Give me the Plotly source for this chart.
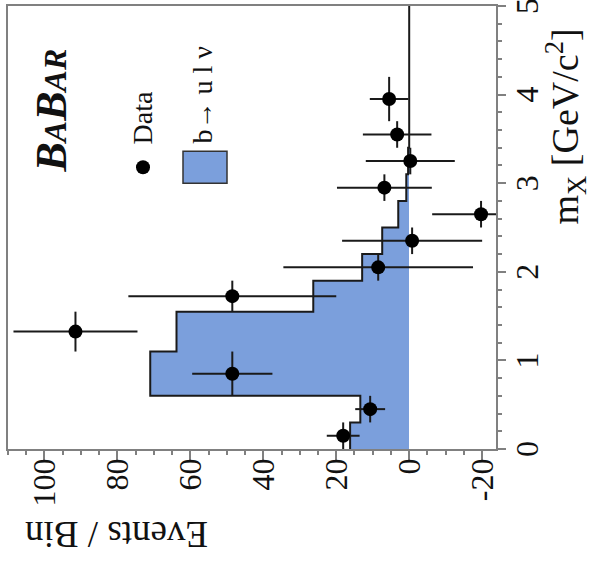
import plotly.graph_objects as go

# ---- data ----
bin_edges = [0.0, 0.3, 0.6, 1.1, 1.55, 1.9, 2.2, 2.5, 2.8, 3.1, 3.4, 3.7, 4.2, 5.0]
data_events = [18.1, 10.7, 48.5, 91.5, 48.5, 8.5, -0.8, -19.7, 6.8, -0.3, 3.3, 5.5]
data_errors = [4.5, 4.1, 11.0, 17.0, 28.5, 26.0, 19.2, 13.4, 13.0, 12.2, 9.4, 5.3]
mc_events = [16.2, 13.4, 71.0, 63.8, 26.3, 12.9, 7.4, 3.0, 0.8, 0.3, 0.0, 0.0, 0.0]
x_ticks = [-20, 0, 20, 40, 60, 80, 100]
y_ticks = [0, 1, 2, 3, 4, 5]

FILL = "#7b9fdc"
DARK = "#1a1a1a"
AXC = "#808080"
FONT = "Liberation Serif"

centers = [(bin_edges[i] + bin_edges[i + 1]) / 2 for i in range(len(bin_edges) - 1)]
widths = [bin_edges[i + 1] - bin_edges[i] for i in range(len(bin_edges) - 1)]
n_data = len(data_events)

fig = go.Figure()

# histogram fill
fig.add_trace(go.Bar(
    x=mc_events, y=centers, width=widths, orientation="h",
    marker=dict(color=FILL, line=dict(width=0)), showlegend=False,
))

# histogram step outline
sx, sy = [], []
for i, v in enumerate(mc_events):
    sx += [v, v]
    sy += [bin_edges[i], bin_edges[i + 1]]
fig.add_trace(go.Scatter(x=sx, y=sy, mode="lines",
                         line=dict(color=DARK, width=2), showlegend=False))

# data points
fig.add_trace(go.Scatter(
    x=data_events, y=centers[:n_data], mode="markers",
    marker=dict(color="black", size=14),
    error_x=dict(type="data", array=data_errors, color=DARK, thickness=2, width=0),
    error_y=dict(type="data", array=[w / 2 for w in widths[:n_data]], color=DARK, thickness=2, width=0),
    showlegend=False,
))

# plot area in pixels
L, R, T, B = 8, 496, 4, 449
W, H = 593, 568


def px(xp):
    return (xp - L) / (R - L)


def py(yp):
    return (B - yp) / (B - T)


fig.update_layout(
    width=W, height=H,
    margin=dict(l=L, r=W - R, t=T, b=H - B),
    paper_bgcolor="white", plot_bgcolor="white",
    bargap=0,
    xaxis=dict(
        range=[110, -23.8], tickvals=x_ticks, ticktext=[str(v) for v in x_ticks],
        tickangle=-90, ticks="outside", ticklen=9, tickwidth=1.5, tickcolor=AXC,
        minor=dict(dtick=5, tick0=0, ticks="outside", ticklen=4, tickwidth=1.5, tickcolor=AXC),
        showline=True, linecolor=AXC, linewidth=1.5, mirror=True,
        showgrid=False, zeroline=False, ticklabelstandoff=-14,
        tickfont=dict(family=FONT, size=32, color="#111"),
    ),
    yaxis=dict(
        range=[0, 5], side="right", tickvals=y_ticks, showticklabels=False,
        ticks="outside", ticklen=8, tickwidth=1.5, tickcolor=AXC,
        minor=dict(dtick=0.2, tick0=0, ticks="outside", ticklen=4, tickwidth=1.5, tickcolor=AXC),
        showline=True, linecolor=AXC, linewidth=1.5, mirror=True,
        showgrid=False, zeroline=False,
    ),
    font=dict(family=FONT, color="#111"),
)

# y tick labels (rotated)
for v in y_ticks:
    fig.add_annotation(text=str(v), xref="paper", yref="y", x=px(527), y=v,
                       xanchor="center", yanchor="middle", showarrow=False, textangle=-90,
                       font=dict(family=FONT, size=32, color="#111"))

# axis titles
fig.add_annotation(text="Events / Bin", xref="paper", yref="paper",
                   x=px(117), y=py(535), xanchor="center", yanchor="middle",
                   showarrow=False, textangle=180,
                   font=dict(family=FONT, size=37, color="#111"))
fig.add_annotation(text="m<sub>X</sub> [GeV/c<sup>2</sup>]", xref="paper", yref="paper",
                   x=px(566), y=py(125), xanchor="center", yanchor="middle",
                   showarrow=False, textangle=-90,
                   font=dict(family=FONT, size=38, color="#111"))

# BaBar logo
fig.add_annotation(
    text="<b><i>B<span style='font-size:32px'>A</span>B<span style='font-size:32px'>AR</span></i></b>",
    xref="paper", yref="paper", x=px(52), y=py(109), xanchor="center", yanchor="middle",
    showarrow=False, textangle=-90,
    font=dict(family=FONT, size=44, color="#111"))

# legend
fig.add_shape(type="circle", xref="paper", yref="paper",
              x0=px(136), x1=px(150), y0=py(173), y1=py(159),
              fillcolor="black", line=dict(width=0))
fig.add_annotation(text="Data", xref="paper", yref="paper", x=px(142), y=py(117),
                   xanchor="center", yanchor="middle",
                   showarrow=False, textangle=-90, font=dict(family=FONT, size=28, color="#111"))
fig.add_shape(type="rect", xref="paper", yref="paper",
              x0=px(183), x1=px(227), y0=py(182), y1=py(150),
              fillcolor=FILL, line=dict(color="#333", width=1.5))
fig.add_annotation(text="b→ u l ν", xref="paper", yref="paper", x=px(203), y=py(94),
                   xanchor="center", yanchor="middle",
                   showarrow=False, textangle=-90, font=dict(family=FONT, size=28, color="#111"))

fig.write_html("out.html")
